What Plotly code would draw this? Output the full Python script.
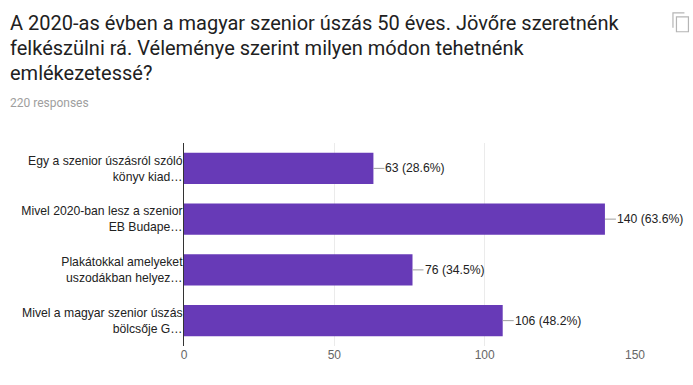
import plotly.graph_objects as go

W, H = 693, 385
L, R, T, B = 184, 57.5, 142.5, 39

categories = [
    "Egy a szenior úszásról szóló<br>könyv kiad…",
    "Mivel 2020-ban lesz a szenior<br>EB Budape…",
    "Plakátokkal amelyeket<br>uszodákban helyez…",
    "Mivel a magyar szenior úszás<br>bölcsője G…",
]
counts = [63, 140, 76, 106]
percents = ["28.6%", "63.6%", "34.5%", "48.2%"]
x_ticks = [0, 50, 100, 150]
title_lines = [
    "A 2020-as évben a magyar szenior úszás 50 éves. Jövőre szeretnénk",
    "felkészülni rá. Véleménye szerint milyen módon tehetnénk",
    "emlékezetessé?",
]
subtitle = "220 responses"


def px(x):
    return (x - L) / (W - L - R)


def py(y):
    return 1 - (y - T) / (H - T - B)


fig = go.Figure(
    go.Bar(
        x=counts,
        y=categories,
        orientation="h",
        marker=dict(color="#673ab7", line_width=0),
        width=0.62,
    )
)

annotations = []
for c, v, p in zip(categories, counts, percents):
    annotations.append(
        dict(
            x=v, y=c, xref="x", yref="y",
            text=f"{v} ({p})",
            showarrow=True, arrowhead=0, arrowwidth=1, arrowcolor="#9e9e9e",
            ax=11, ay=0, axref="pixel", ayref="pixel",
            xanchor="left", yanchor="middle", standoff=0, borderpad=0,
            font=dict(family="Liberation Sans", size=12.2, color="#222222"),
        )
    )

for line, y in zip(title_lines, [22, 47, 72]):
    annotations.append(
        dict(
            x=px(9), y=py(y), xref="paper", yref="paper",
            text=line, showarrow=False, xanchor="left", yanchor="middle",
            borderpad=0,
            font=dict(family="Roboto", size=20, color="#212121"),
        )
    )
annotations.append(
    dict(
        x=px(9), y=py(102), xref="paper", yref="paper",
        text=subtitle, showarrow=False, xanchor="left", yanchor="middle",
        borderpad=0,
        font=dict(family="Roboto", size=12, color="#9e9e9e"),
    )
)

shapes = [
    dict(type="rect", xref="paper", yref="paper",
         x0=px(677), x1=px(689), y0=py(16), y1=py(31),
         line=dict(color="#b5b5b5", width=1.2), fillcolor="white"),
    dict(type="path", xref="paper", yref="paper",
         path=f"M {px(673.5)} {py(27)} L {px(673.5)} {py(12)} L {px(685)} {py(12)}",
         line=dict(color="#b5b5b5", width=1.2)),
]

fig.update_layout(
    width=W, height=H,
    margin=dict(l=L, r=R, t=T, b=B, pad=0),
    paper_bgcolor="white", plot_bgcolor="white",
    showlegend=False,
    bargap=0.38,
    annotations=annotations,
    shapes=shapes,
    font=dict(family="Liberation Sans", size=12.2, color="#222222"),
    xaxis=dict(
        range=[0, 150], tickvals=x_ticks, showgrid=True, gridcolor="#ebebeb",
        gridwidth=1, zeroline=False, showline=False, ticks="",
        tickfont=dict(family="Liberation Sans", size=12, color="#666666"),
    ),
    yaxis=dict(
        categoryorder="array", categoryarray=categories, autorange="reversed",
        showgrid=False, zeroline=False, showline=True, linecolor="#333333",
        linewidth=1, ticks="", ticklabelstandoff=-2,
        tickfont=dict(family="Liberation Sans", size=12.2, color="#222222"),
    ),
)

fig.write_html("out.html", config={"displayModeBar": False},
               post_script="document.body.style.margin='0';")
